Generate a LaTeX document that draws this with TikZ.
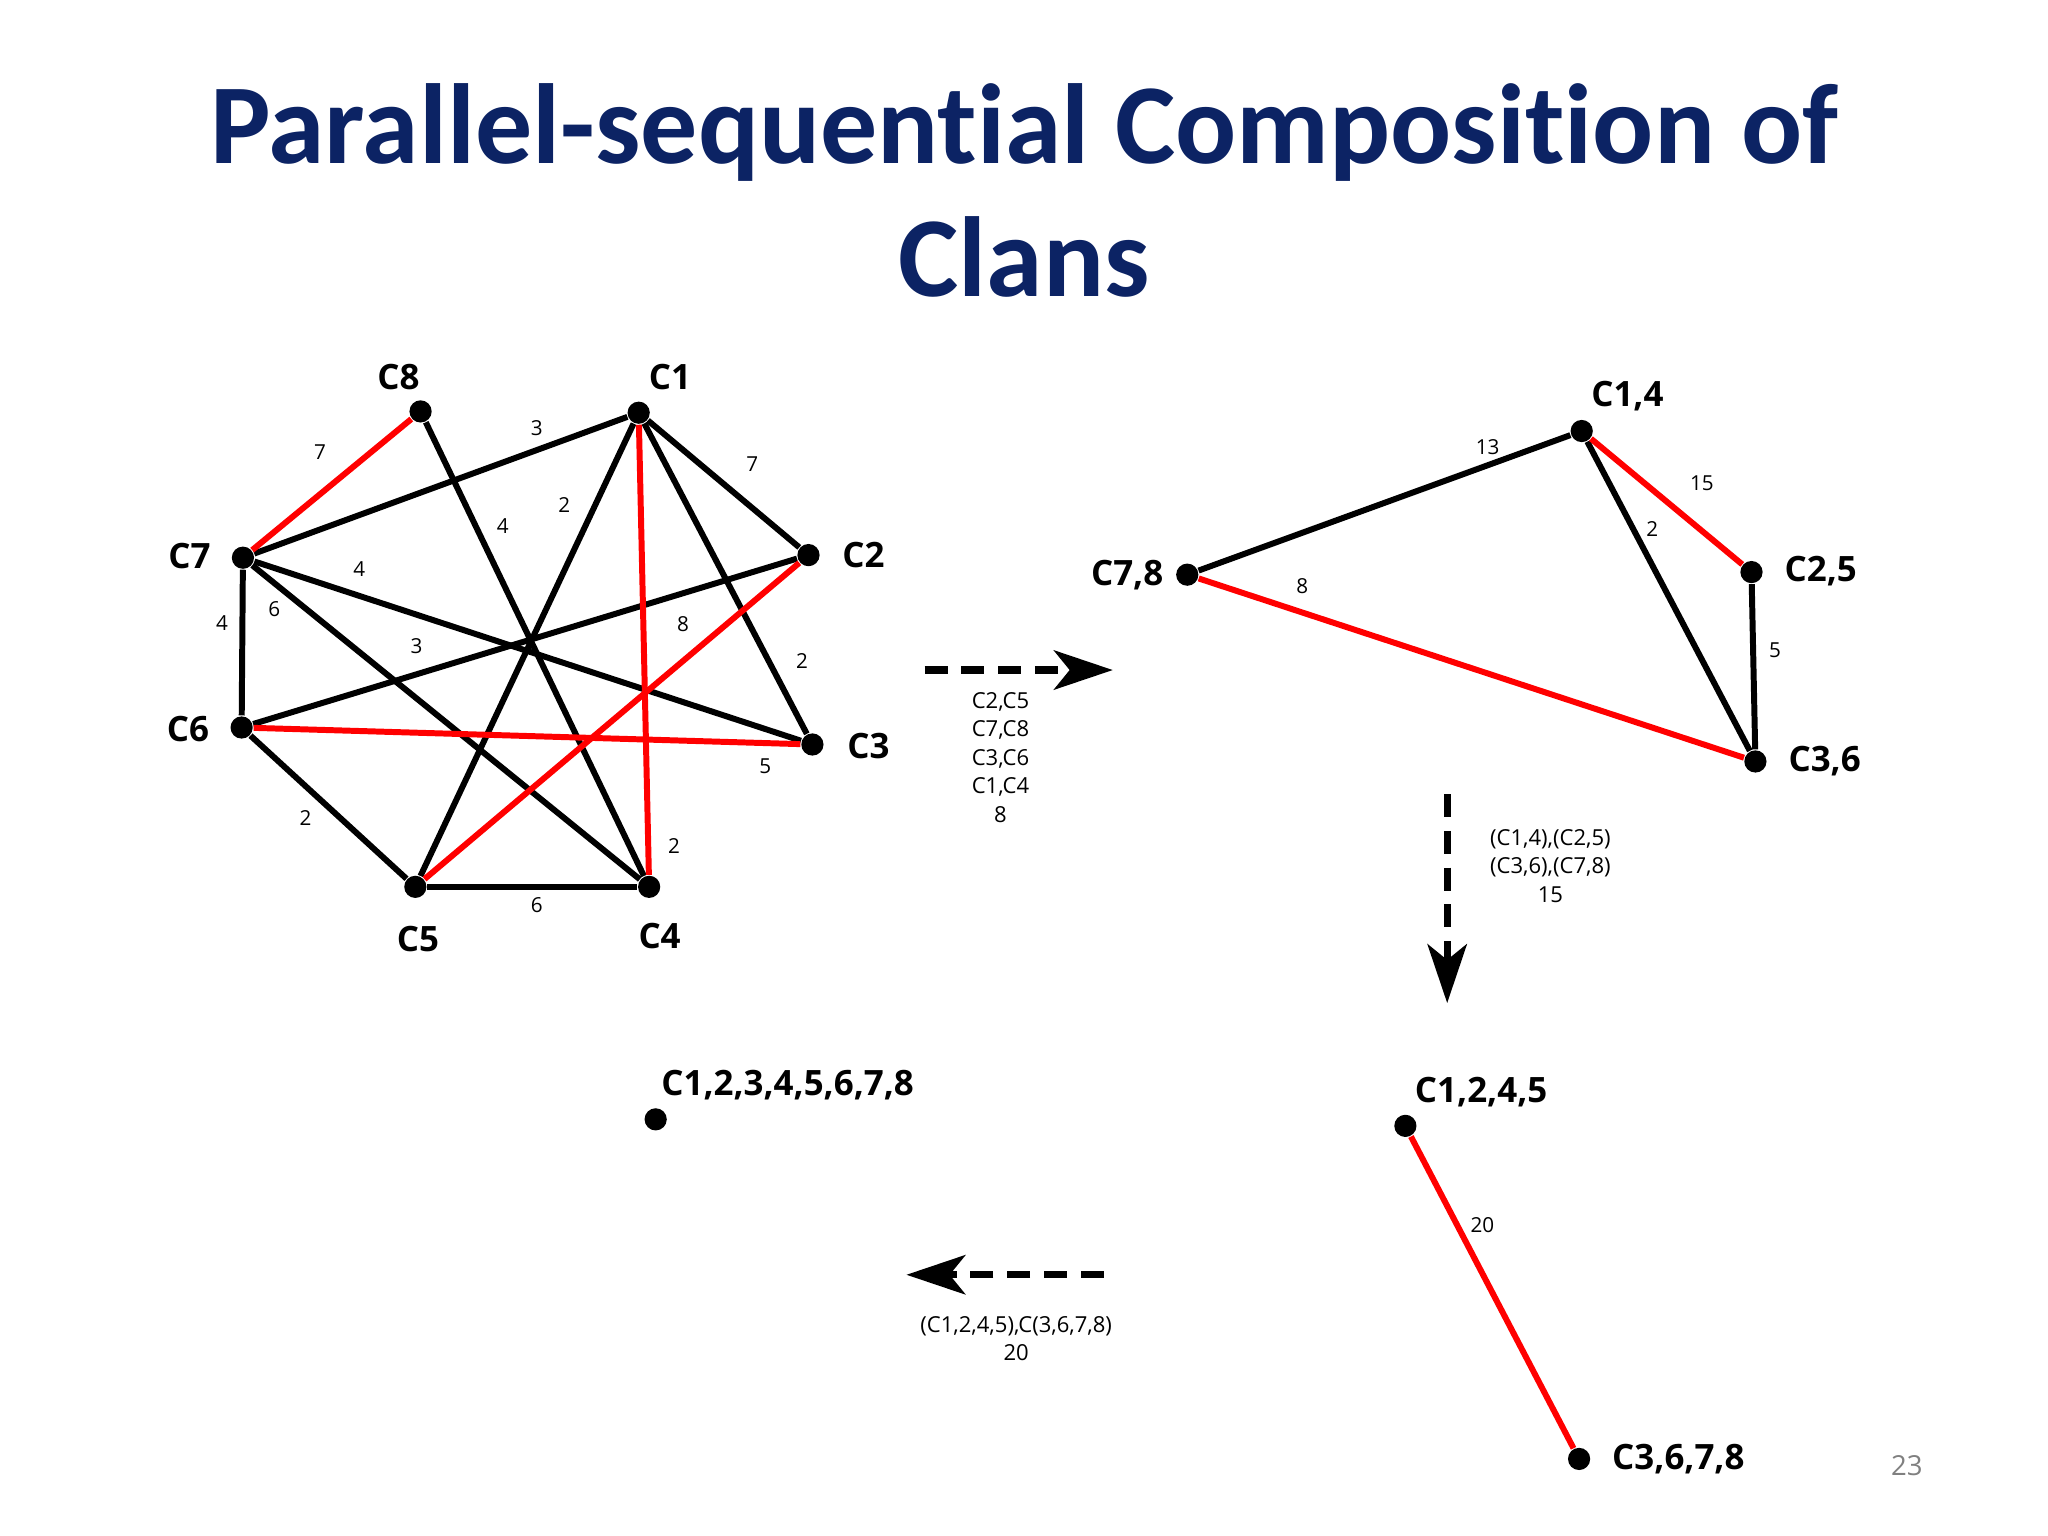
\documentclass[tikz,border=0pt]{standalone}
\usepackage{fontspec}
\setmainfont{Open Sans}
\newfontfamily\titlefont[Ligatures=NoCommon]{Carlito}
\usetikzlibrary{arrows.meta}
\definecolor{navy}{RGB}{12,35,100}
\begin{document}
\begin{tikzpicture}[x=0.01cm,y=-0.01cm,
  dot/.style={circle,fill=black,inner sep=0pt,minimum size=0.17cm},
  lbl/.style={font=\fontsize{7.6}{9}\selectfont\bfseries},
  e/.style={line width=1.3pt},
  r/.style={line width=1.3pt,red},
  w/.style={font=\fontsize{4.5}{5}\selectfont},
  arr/.style={line width=1.6pt,dash pattern=on 5pt off 3pt,-{Stealth[length=0.45cm,width=0.3cm,inset=0.12cm]}},
  cpt/.style={font=\fontsize{4.8}{6.2}\selectfont,align=center}]
\useasboundingbox[fill=white] (0,0) rectangle (1568,1176);
\node[font=\titlefont\fontsize{24.8}{29}\selectfont\bfseries,text=navy,align=center] (title) at (784,146) {Parallel-sequential Composition of\\Clans};
% left graph
\node[dot] (c8) at (322,315) {}; \node[lbl] (l8) at (305,289) {C8};
\node[dot] (c1) at (489,316) {}; \node[lbl] (l1) at (513,289) {C1};
\node[dot] (c2) at (619,425) {}; \node[lbl] (l2) at (661,425) {C2};
\node[dot] (c3) at (622,570) {}; \node[lbl] (l3) at (665,571) {C3};
\node[dot] (c4) at (497,679) {}; \node[lbl] (l4) at (505,717) {C4};
\node[dot] (c5) at (318,679) {}; \node[lbl] (l5) at (320,719) {C5};
\node[dot] (c6) at (185,557) {}; \node[lbl] (l6) at (144,558) {C6};
\node[dot] (c7) at (186,427) {}; \node[lbl] (l7) at (145,426) {C7};
\draw[e] (c8)--(c4); \draw[e] (c1)--(c7); \draw[e] (c1)--(c2); \draw[e] (c1)--(c3);
\draw[e] (c1)--(c5); \draw[e] (c7)--(c3); \draw[e] (c7)--(c4); \draw[e] (c7)--(c6);
\draw[e] (c6)--(c2); \draw[e] (c6)--(c5); \draw[e] (c5)--(c4);
\draw[r] (c8)--(c7); \draw[r] (c1)--(c4); \draw[r] (c6)--(c3); \draw[r] (c5)--(c2);
\node[w] (w1) at (245,346) {7}; \node[w] (w2) at (411,328) {3}; \node[w] (w3) at (576,355) {7};
\node[w] (w4) at (385,403) {4}; \node[w] (w5) at (432,387) {2}; \node[w] (w6) at (275,436) {4};
\node[w] (w7) at (210,466) {6}; \node[w] (w8) at (170,477) {4}; \node[w] (w9) at (319,495) {3};
\node[w] (w10) at (523,478) {8}; \node[w] (w11) at (614,506) {2}; \node[w] (w12) at (586,587) {5};
\node[w] (w13) at (234,626) {2}; \node[w] (w14) at (516,648) {2}; \node[w] (w15) at (411,693) {6};
% arrow 1
\coordinate (a1s) at (708,513); \coordinate (a1e) at (852,513);
\draw[arr] (a1s)--(a1e);
\node[cpt] (t1) at (766,580) {C2,C5\\C7,C8\\C3,C6\\C1,C4\\8};
% right graph
\node[dot] (d14) at (1211,330) {}; \node[lbl] (m14) at (1246,303) {C1,4};
\node[dot] (d78) at (909,440) {}; \node[lbl] (m78) at (863,440) {C7,8};
\node[dot] (d25) at (1341,438) {}; \node[lbl] (m25) at (1394,437) {C2,5};
\node[dot] (d36) at (1344,583) {}; \node[lbl] (m36) at (1397,583) {C3,6};
\draw[e] (d78)--(d14); \draw[e] (d14)--(d36); \draw[e] (d25)--(d36);
\draw[r] (d14)--(d25); \draw[r] (d78)--(d36);
\node[w] (v1) at (1139,342) {13}; \node[w] (v2) at (1303,370) {15}; \node[w] (v3) at (1265,405) {2};
\node[w] (v4) at (1359,498) {5}; \node[w] (v5) at (997,449) {8};
% arrow 2
\coordinate (a2s) at (1108,608); \coordinate (a2e) at (1108,768);
\draw[arr] (a2s)--(a2e);
\node[cpt] (t2) at (1187,663) {(C1,4),(C2,5)\\(C3,6),(C7,8)\\15};
% bottom right
\node[dot] (f1) at (1076,862) {}; \node[lbl] (n1) at (1134,836) {C1,2,4,5};
\node[dot] (f2) at (1209,1117) {}; \node[lbl] (n2) at (1285,1117) {C3,6,7,8};
\draw[r] (f1)--(f2);
\node[w] (u1) at (1135,938) {20};
% arrow 3
\coordinate (a3s) at (845,976); \coordinate (a3e) at (694,976);
\draw[arr] (a3s)--(a3e);
\node[cpt] (t3) at (778,1025) {(C1,2,4,5),C(3,6,7,8)\\20};
% final
\node[dot] (g) at (502,857) {}; \node[lbl] (o) at (603,831) {C1,2,3,4,5,6,7,8};
\node[font=\fontsize{6}{7}\selectfont,text=gray] (pg) at (1460,1122) {23};
\end{tikzpicture}
\end{document}
